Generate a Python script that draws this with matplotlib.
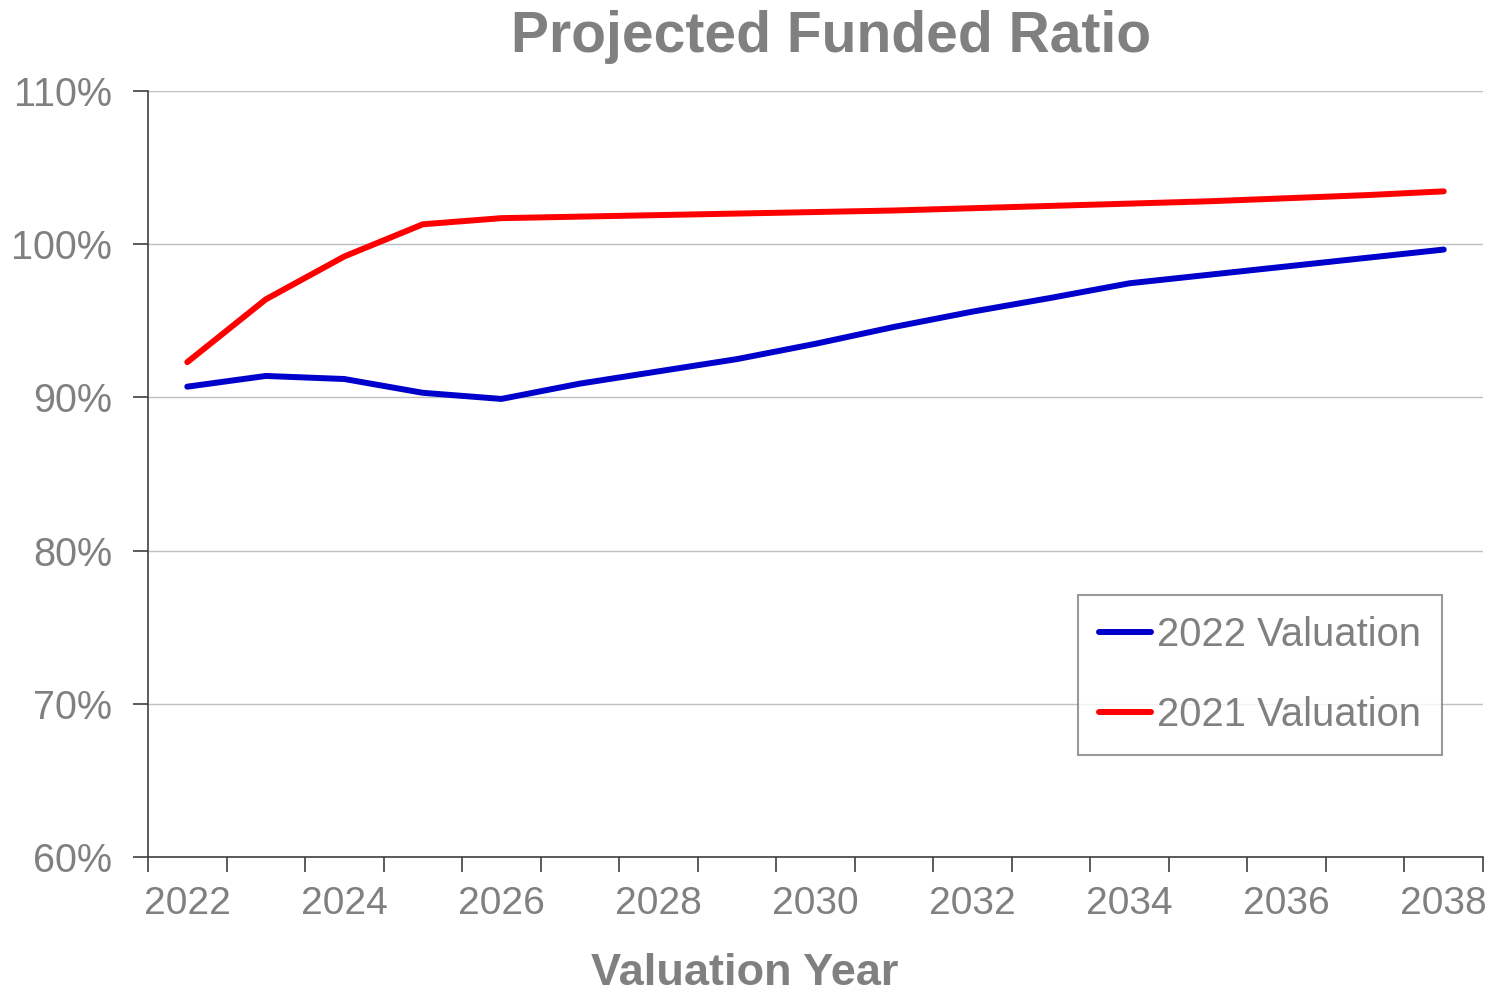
import matplotlib
matplotlib.use("Agg")
import matplotlib.pyplot as plt
from matplotlib.ticker import FixedLocator, FuncFormatter

years = list(range(2022, 2039))
val_2022 = [90.7, 91.4, 91.2, 90.3, 89.9, 90.9, 91.7, 92.5, 93.5, 94.6, 95.6, 96.5,
            97.45, 98.0, 98.55, 99.1, 99.65]
val_2021 = [92.3, 96.4, 99.2, 101.3, 101.7, 101.8, 101.9, 102.0, 102.1, 102.2, 102.35,
            102.5, 102.65, 102.8, 103.0, 103.2, 103.45]
series_labels = ["2022 Valuation", "2021 Valuation"]
y_ticks = [60, 70, 80, 90, 100, 110]
title = "Projected Funded Ratio"
xlabel = "Valuation Year"

GRAY = "#808080"
FONT = "Liberation Sans"
plt.rcParams["font.family"] = [FONT, "DejaVu Sans"]

W, H = 1498, 996
fig = plt.figure(figsize=(W / 100, H / 100), dpi=100)
ax = fig.add_axes([148 / W, 1 - 857 / H, (1483 - 148) / W, (857 - 91) / H])

x = list(range(len(years)))
ax.plot(x, val_2022, color="#0000CC", lw=4.3, solid_capstyle="round",
        solid_joinstyle="round", label=series_labels[0], zorder=3)
ax.plot(x, val_2021, color="#FF0000", lw=4.3, solid_capstyle="round",
        solid_joinstyle="round", label=series_labels[1], zorder=3)

ax.set_xlim(-0.5, len(years) - 0.5)
ax.set_ylim(y_ticks[0], y_ticks[-1])

# major ticks at category boundaries (no labels)
ax.xaxis.set_major_locator(FixedLocator([i - 0.5 for i in range(len(years) + 1)]))
ax.xaxis.set_major_formatter(FuncFormatter(lambda v, p: ""))
# minor ticks at category centres for labels (every other year)
label_pos = x[::2]
ax.xaxis.set_minor_locator(FixedLocator(label_pos))
ax.xaxis.set_minor_formatter(FuncFormatter(lambda v, p: str(years[int(round(v))])))
ax.tick_params(axis="x", which="major", length=11, width=1.2, color="#404040",
               direction="out")
ax.tick_params(axis="x", which="minor", length=0, pad=21, labelsize=28,
               labelcolor=GRAY)

ax.set_yticks(y_ticks)
ax.yaxis.set_major_formatter(FuncFormatter(lambda v, p: f"{int(v)}%"))
ax.tick_params(axis="y", length=11, width=1.2, color="#404040", direction="out",
               pad=15, labelsize=28.5, labelcolor=GRAY)

ax.grid(axis="y", color="#C0C0C0", lw=1.0)
ax.set_axisbelow(True)
for s in ["top", "right"]:
    ax.spines[s].set_visible(False)
for s in ["left", "bottom"]:
    ax.spines[s].set_color("#404040")
    ax.spines[s].set_linewidth(1.2)

fig.text(831 / W, 1 - 37 / H, title, ha="center", va="center", fontsize=41,
         fontweight="bold", color=GRAY)
fig.text(745 / W, 1 - 973 / H, xlabel, ha="center", va="center", fontsize=32.5,
         fontweight="bold", color=GRAY)

leg = fig.legend(loc="upper left", bbox_to_anchor=(1078 / W, 1 - 595 / H),
                 borderaxespad=0, frameon=True, fancybox=False, fontsize=28.8,
                 handlelength=1.3, handletextpad=0.15, labelspacing=1.05,
                 borderpad=0.52, labelcolor=GRAY)
leg.get_frame().set_edgecolor(GRAY)
leg.get_frame().set_linewidth(1.5)

fig.savefig("out.png", dpi=100, facecolor="white")
